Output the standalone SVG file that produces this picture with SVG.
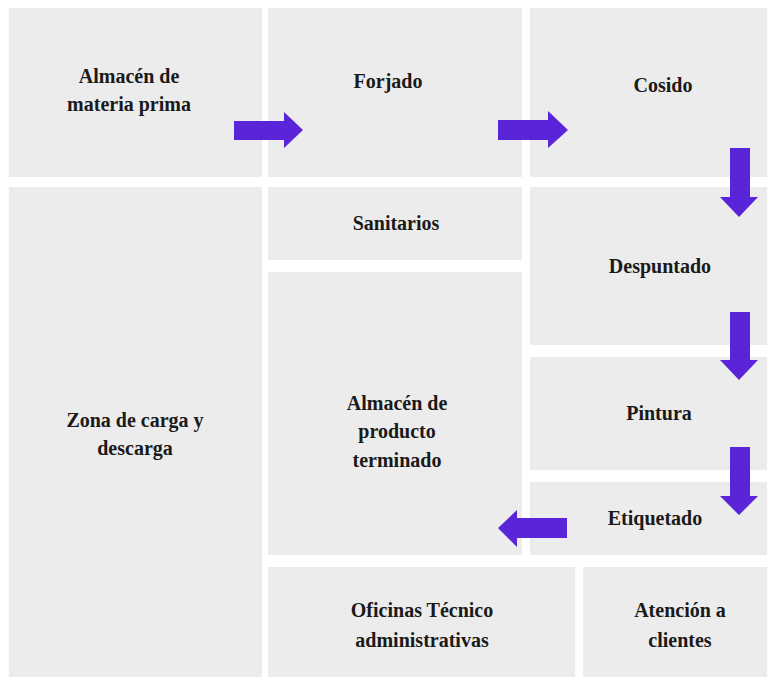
<svg xmlns="http://www.w3.org/2000/svg" width="767" height="677" viewBox="0 0 767 677">
<style>
.r{fill:#ececec}
.a{fill:#5a24d8}
</style>
<rect width="767" height="677" fill="#ffffff"/>
<g font-family="Liberation Serif, Times New Roman, serif" font-weight="bold" font-size="20" fill="#1a1a1a" text-anchor="middle">
<g id="almacen-mp"><rect class="r" x="9" y="8" width="253" height="169"/><text x="129" y="83">Almacén de</text><text x="129" y="111">materia prima</text></g>
<g id="forjado"><rect class="r" x="268" y="8" width="254" height="169"/><text x="388" y="88">Forjado</text></g>
<g id="cosido"><rect class="r" x="530" y="8" width="237" height="169"/><text x="663" y="92">Cosido</text></g>
<g id="zona"><rect class="r" x="9" y="187" width="253" height="490"/><text x="135" y="427">Zona de carga y</text><text x="135" y="455">descarga</text></g>
<g id="sanitarios"><rect class="r" x="268" y="187" width="254" height="73"/><text x="396" y="230">Sanitarios</text></g>
<g id="almacen-pt"><rect class="r" x="268" y="272" width="254" height="283"/><text x="397" y="410">Almacén de</text><text x="397" y="438">producto</text><text x="397" y="467">terminado</text></g>
<g id="despuntado"><rect class="r" x="530" y="187" width="237" height="158"/><text x="660" y="273">Despuntado</text></g>
<g id="pintura"><rect class="r" x="530" y="357" width="237" height="113"/><text x="659" y="420">Pintura</text></g>
<g id="etiquetado"><rect class="r" x="530" y="482" width="237" height="73"/><text x="655" y="525">Etiquetado</text></g>
<g id="oficinas"><rect class="r" x="268" y="567" width="307" height="110"/><text x="422" y="617">Oficinas Técnico</text><text x="422" y="647">administrativas</text></g>
<g id="atencion"><rect class="r" x="583" y="567" width="184" height="110"/><text x="680" y="617">Atención a</text><text x="680" y="647">clientes</text></g>
</g>
<g id="connectors">
<polygon class="a" points="234,121 284,121 284,112 303,130 284,148 284,140 234,140"/>
<polygon class="a" points="498,120 548,120 548,111 568,130 548,148 548,140 498,140"/>
<polygon class="a" points="730,148 750,148 750,197 758,197 739,217 720,197 730,197"/>
<polygon class="a" points="730,312 750,312 750,360 758,360 739,380 720,360 730,360"/>
<polygon class="a" points="730,447 750,447 750,496 758,496 739,515 720,496 730,496"/>
<polygon class="a" points="567,518 567,538 517,538 517,547 498,528 517,510 517,518"/>
</g>
</svg>
